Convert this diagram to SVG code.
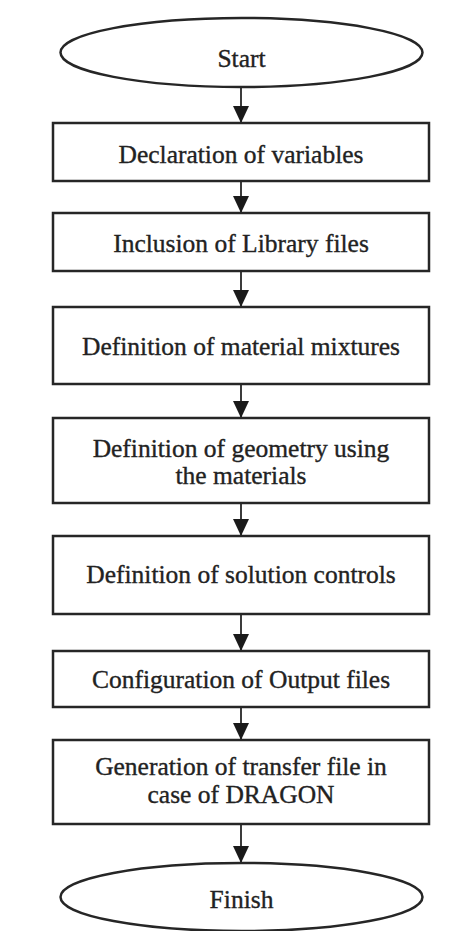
<svg xmlns="http://www.w3.org/2000/svg" width="459" height="931" viewBox="0 0 459 931">
<style>
.n{fill:#fff;stroke:#262626;stroke-width:2.5}
.t{font-family:"Liberation Serif","Times New Roman",serif;font-size:25.5px;fill:#222;stroke:#222;stroke-width:0.35;text-anchor:middle}
.c{stroke:#262626;stroke-width:1.8;fill:none}
</style>
<defs>
<marker id="av" markerUnits="userSpaceOnUse" markerWidth="17" markerHeight="16" refX="17" refY="8" orient="auto" viewBox="0 0 17 16">
<path d="M0,0 L17,8 L0,16 z" fill="#1a1a1a"/>
</marker>
</defs>
<rect width="459" height="931" fill="#fff"/>
<g id="connectors">
<line class="c" x1="241" y1="87" x2="241" y2="123" marker-end="url(#av)"/>
<line class="c" x1="241" y1="181" x2="241" y2="213" marker-end="url(#av)"/>
<line class="c" x1="241" y1="271" x2="241" y2="307" marker-end="url(#av)"/>
<line class="c" x1="241" y1="384" x2="241" y2="418" marker-end="url(#av)"/>
<line class="c" x1="241" y1="503" x2="241" y2="536" marker-end="url(#av)"/>
<line class="c" x1="241" y1="614" x2="241" y2="651" marker-end="url(#av)"/>
<line class="c" x1="241" y1="707" x2="241" y2="740" marker-end="url(#av)"/>
<line class="c" x1="241" y1="824" x2="241" y2="863" marker-end="url(#av)"/>
</g>
<g id="start">
<ellipse class="n" cx="241.5" cy="52.5" rx="181" ry="34.5"/>
<text class="t" x="241.5" y="67">Start</text>
</g>
<g id="n1">
<rect class="n" x="53" y="123" width="376" height="58"/>
<text class="t" x="241" y="163">Declaration of variables</text>
</g>
<g id="n2">
<rect class="n" x="53" y="213" width="376" height="58"/>
<text class="t" x="241" y="252">Inclusion of Library files</text>
</g>
<g id="n3">
<rect class="n" x="53" y="307" width="376" height="77"/>
<text class="t" x="241" y="355">Definition of material mixtures</text>
</g>
<g id="n4">
<rect class="n" x="53" y="418" width="376" height="85"/>
<text class="t" x="241" y="457">Definition of geometry using</text>
<text class="t" x="241" y="484">the materials</text>
</g>
<g id="n5">
<rect class="n" x="53" y="536" width="376" height="78"/>
<text class="t" x="241" y="583">Definition of solution controls</text>
</g>
<g id="n6">
<rect class="n" x="53" y="651" width="376" height="56"/>
<text class="t" x="241" y="688">Configuration of Output files</text>
</g>
<g id="n7">
<rect class="n" x="53" y="740" width="376" height="84"/>
<text class="t" x="241" y="775">Generation of transfer file in</text>
<text class="t" x="241" y="803">case of DRAGON</text>
</g>
<g id="finish">
<ellipse class="n" cx="241.5" cy="897" rx="181" ry="34"/>
<text class="t" x="241.5" y="908">Finish</text>
</g>
</svg>
